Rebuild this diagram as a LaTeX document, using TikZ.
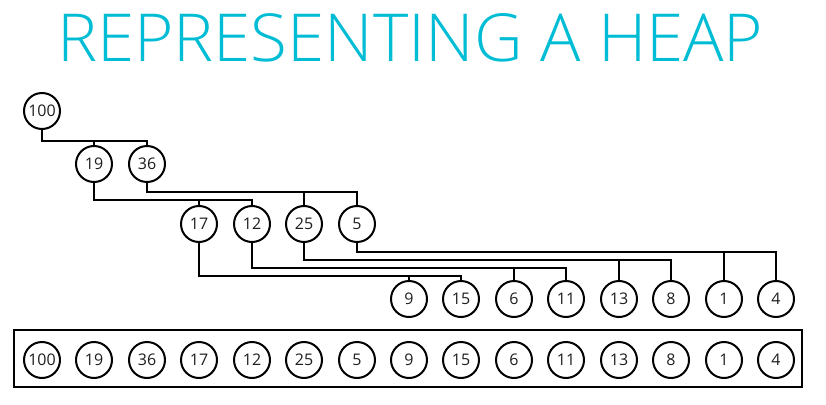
\documentclass[tikz,border=0pt]{standalone}
\usepackage{fontspec}
\setmainfont{Open Sans}
\newfontfamily\titlefont{Open Sans Light}
\definecolor{titlecyan}{RGB}{0,188,212}
\definecolor{numgray}{RGB}{30,30,30}
\begin{document}
\begin{tikzpicture}[x=1pt,y=-1pt,
  heapnode/.style={circle, draw, line width=2pt, minimum size=36pt, inner sep=0pt,
    font=\fontsize{16}{16}\selectfont, text=numgray},
  link/.style={line width=2pt},
  framebox/.style={draw, line width=2.5pt, minimum width=788pt, minimum height=57pt, inner sep=0pt}]
\useasboundingbox (0,0) rectangle (826,404);
\node[anchor=south west, inner sep=0pt, text=titlecyan] (title) at (57,62)
  {\resizebox{706pt}{48pt}{\titlefont REPRESENTING A HEAP}};
% tree
\foreach \v/\xx/\yy [count=\i from 0] in {100/42/111, 19/94/164, 36/147/164, 17/199/224, 12/252/224,
   25/304/224, 5/357/224, 9/409/299, 15/461/299, 6/514/299, 11/566/299, 13/619/299, 8/671/299,
   1/724/299, 4/776/299}
  \node[heapnode] (t\i) at (\xx,\yy) {\v};
% links
\foreach \p/\a/\b/\yy in {0/1/2/141, 1/3/4/200, 2/5/6/192, 3/7/8/276, 4/9/10/268, 5/11/12/260, 6/13/14/252} {
  \draw[link] (t\p.south) -- (t\p.south |- 0,\yy) -| (t\b.north);
  \draw[link] (t\a.north) -- (t\a.north |- 0,\yy);
}
% array
\node[framebox] (frame) at (408,358.5) {};
\foreach \v/\xx [count=\i from 0] in {100/42,19/94,36/147,17/199,12/252,25/304,5/357,9/409,
   15/461,6/514,11/566,13/619,8/671,1/724,4/776}
  \node[heapnode] (a\i) at (\xx,360) {\v};
\end{tikzpicture}
\end{document}
